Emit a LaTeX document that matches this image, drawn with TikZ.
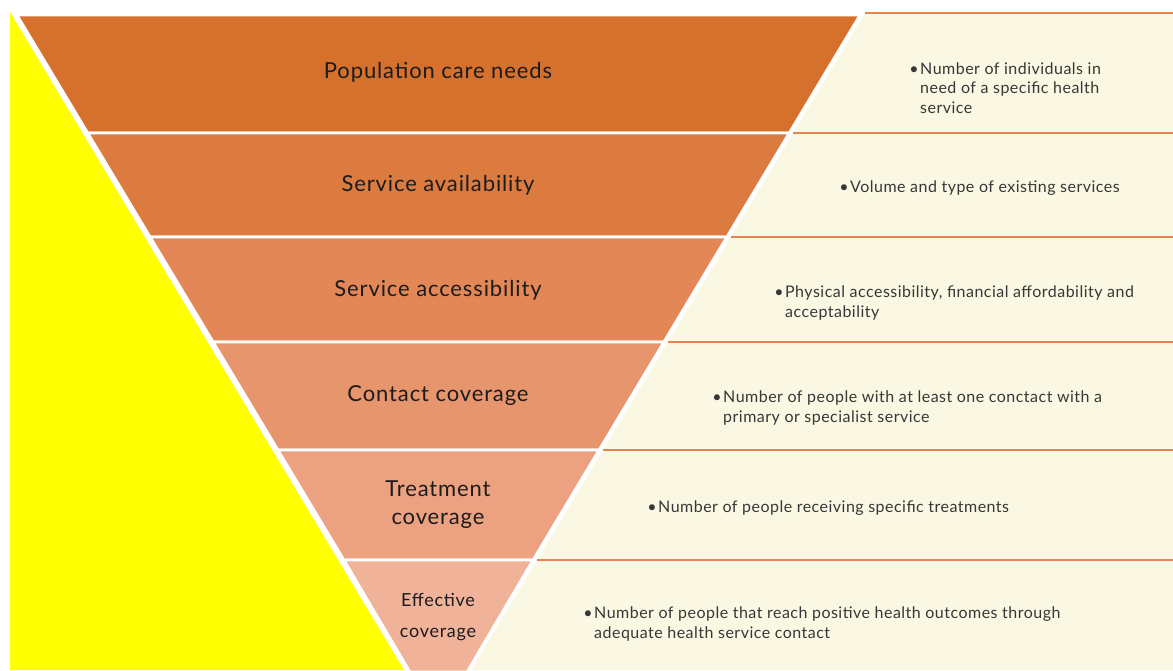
\documentclass[tikz,border=0pt]{standalone}
\usepackage{fontspec}
\setmainfont{Lato}
\newfontfamily\lblfont[LetterSpace=4]{Lato}
\newfontfamily\descfont[LetterSpace=3]{Lato}
\definecolor{pureyellow}{RGB}{255,255,0}
\definecolor{bandA}{RGB}{214,112,45}
\definecolor{bandB}{RGB}{219,123,63}
\definecolor{bandC}{RGB}{227,135,87}
\definecolor{bandD}{RGB}{230,149,108}
\definecolor{bandE}{RGB}{236,161,128}
\definecolor{bandF}{RGB}{241,178,154}
\definecolor{cream}{RGB}{250,248,226}
\definecolor{sepline}{RGB}{228,134,84}
\definecolor{labeltext}{RGB}{28,28,28}
\definecolor{desctext}{RGB}{55,55,55}
\tikzset{
  band/.style={draw=white, line width=2.6pt, line join=miter},
  sep/.style={draw=sepline, line width=2pt},
  lbl/.style={font=\lblfont\fontsize{22}{28}\selectfont, text=labeltext, align=center, inner sep=0pt},
  lblsmall/.style={font=\lblfont\fontsize{18}{31}\selectfont, text=labeltext, align=center, inner sep=0pt},
  desc/.style={font=\descfont\fontsize{16}{19.5}\selectfont, text=desctext, align=left, anchor=west, inner sep=0pt},
}
\newcommand{\bul}{\makebox[0pt][r]{\textbullet\hspace{1.5pt}}}
\begin{document}
\begin{tikzpicture}[x=1pt,y=-1pt]
\useasboundingbox[fill=white] (0,0) rectangle (1173,670);
% yellow triangle
\fill[pureyellow] (10,12) -- (10,670) -- (404,670) -- cycle;
% cream panel
\fill[cream] (865,13) -- (1173,13) -- (1173,670) -- (471,670) -- cycle;
% separator lines in panel
\draw[sep] (865,13) -- (1173,13);
\draw[sep] (793,133) -- (1173,133);
\draw[sep] (731,237) -- (1173,237);
\draw[sep] (668,342) -- (1173,342);
\draw[sep] (603,450) -- (1173,450);
\draw[sep] (537,560) -- (1173,560);
% funnel bands
\filldraw[band, fill=bandA] (17,15) -- (860,15) -- (789.2,133) -- (87.8,133) -- cycle;
\filldraw[band, fill=bandB] (87.8,133) -- (789.2,133) -- (726.8,237) -- (150.2,237) -- cycle;
\filldraw[band, fill=bandC] (150.2,237) -- (726.8,237) -- (663.8,342) -- (213.2,342) -- cycle;
\filldraw[band, fill=bandD] (213.2,342) -- (663.8,342) -- (599,450) -- (278,450) -- cycle;
\filldraw[band, fill=bandE] (278,450) -- (599,450) -- (533,560) -- (344,560) -- cycle;
\filldraw[band, fill=bandF] (344,560) -- (533,560) -- (467,672) -- (410,672) -- cycle;
% labels
\node[lbl] (l1) at (438,72) {Population care needs};
\node[lbl] (l2) at (438,185) {Service availability};
\node[lbl] (l3) at (438,290) {Service accessibility};
\node[lbl] (l4) at (438,396) {Contact coverage};
\node[lbl] (l5) at (438,505) {Treatment\\coverage};
\node[lblsmall] (l6) at (438,617) {Effective\\coverage};
% descriptions
\node[desc] (d1) at (920,88) {\bul Number of individuals in\\need of a specific health\\service};
\node[desc] (d2) at (850,188) {\bul Volume and type of existing services};
\node[desc] (d3) at (785,303) {\bul Physical accessibility, financial affordability and\\acceptability};
\node[desc] (d4) at (723,408) {\bul Number of people with at least one conctact with a\\primary or specialist service};
\node[desc] (d5) at (658,508) {\bul Number of people receiving specific treatments};
\node[desc] (d6) at (594,624) {\bul Number of people that reach positive health outcomes through\\adequate health service contact};
\end{tikzpicture}
\end{document}
